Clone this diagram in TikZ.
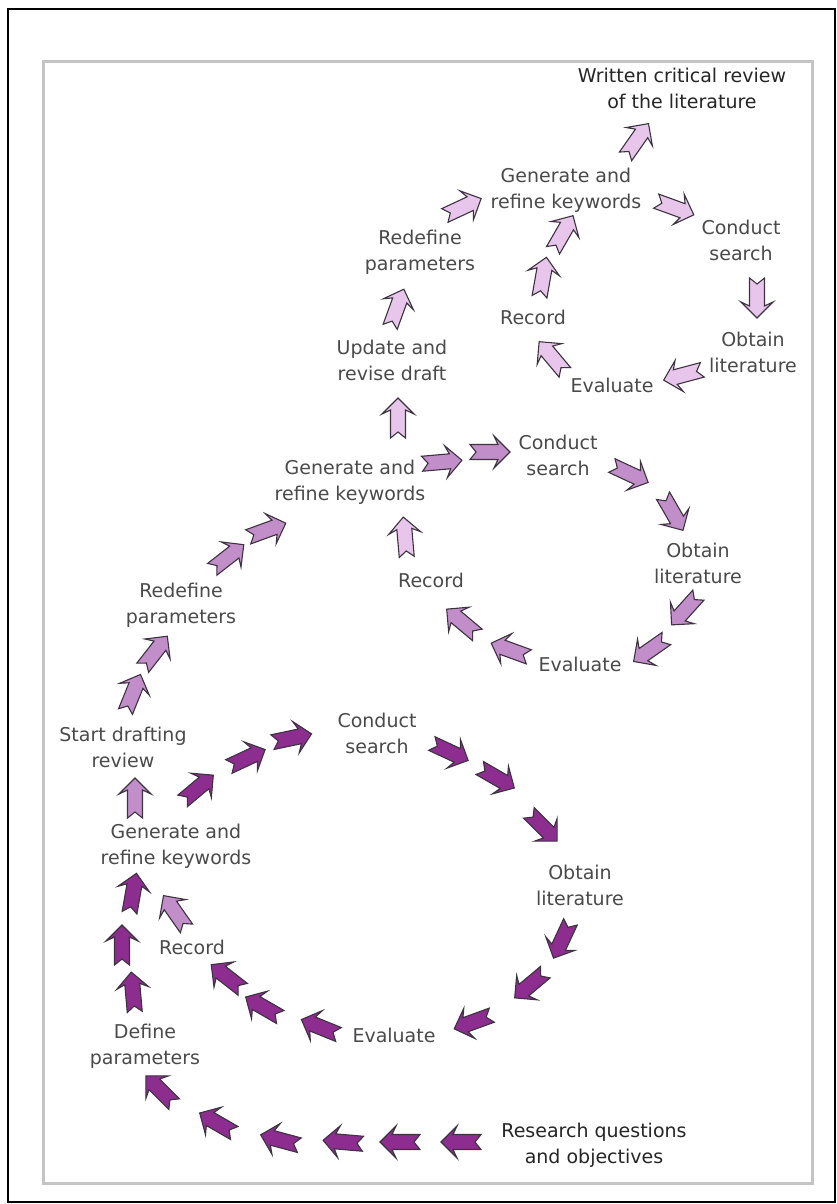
\documentclass[tikz,border=0pt]{standalone}
\usepackage{fontspec}
\setmainfont{DejaVu Sans}
\definecolor{cdark}{HTML}{8C2D8F}
\definecolor{cmed}{HTML}{C28EC9}
\definecolor{clight}{HTML}{E8C5EB}
\definecolor{edge}{HTML}{3D3340}
\definecolor{txt}{HTML}{4A4A4A}
\definecolor{txtdark}{HTML}{262626}
\definecolor{framegray}{HTML}{C4C4C4}
% notched block arrow: centre (#1,#2), direction #3 (degrees), fill #4
\newcommand\blkarrow[4]{%
  \filldraw[arrline, fill=#4, shift={(#1,#2)}, rotate=#3]
    (-20,7.5) -- (8,7.5) -- (4,16) -- (20,0) -- (4,-16) -- (8,-7.5)
    -- (-20,-7.5) -- (-14,0) -- cycle;}
\begin{document}
\begin{tikzpicture}[x=1pt,y=-1pt,
  arrline/.style={draw=edge, line width=1.1pt, line join=miter},
  lbl/.style={font=\fontsize{19}{26}\selectfont, text=txt, align=center, inner sep=0pt},
  keylbl/.style={lbl, text=txtdark}]
\useasboundingbox (0,0) rectangle (837,1204);
\fill[white] (0,0) rectangle (837,1204);
\draw[black, line width=2pt] (8,9) rectangle (835,1202);
\draw[framegray, line width=3pt] (43,62) rectangle (812,1183);

% labels
\node[keylbl] (review) at (682,88) {Written critical review\\of the literature};
\node[lbl] (gen3) at (566,190) {Generate and\\refine keywords};
\node[lbl] (con3) at (741,240) {Conduct\\search};
\node[lbl] (obt3) at (753,352) {Obtain\\literature};
\node[lbl] (eva3) at (612,385) {Evaluate};
\node[lbl] (rec3) at (533,317) {Record};
\node[lbl] (redef3) at (420,252) {Redefine\\parameters};
\node[lbl] (update) at (392,360) {Update and\\revise draft};

\node[lbl] (gen2) at (350,482) {Generate and\\refine keywords};
\node[lbl] (con2) at (558,455) {Conduct\\search};
\node[lbl] (obt2) at (698,563) {Obtain\\literature};
\node[lbl] (eva2) at (580,664) {Evaluate};
\node[lbl] (rec2) at (431,580) {Record};
\node[lbl] (redef2) at (181,605) {Redefine\\parameters};
\node[lbl] (start) at (123,747) {Start drafting\\review};

\node[lbl] (con1) at (377,733) {Conduct\\search};
\node[lbl] (obt1) at (580,885) {Obtain\\literature};
\node[lbl] (eva1) at (394,1035) {Evaluate};
\node[lbl] (rec1) at (192,947) {Record};
\node[lbl] (gen1) at (176,846) {Generate and\\refine keywords};
\node[lbl] (def1) at (145,1046) {Define\\parameters};
\node[keylbl] (rq) at (594,1145) {Research questions\\and objectives};

% first cycle
\foreach \x/\y/\a in {461/1142/180, 400/1142/180, 343/1142/175, 280/1140/165,
    217/1123/150, 160/1090/135,
    133/992/95, 122/945/90, 133/893/80,
    198/788/40, 247/758/25, 292/738/12,
    450/752/-25, 497/778/-30, 543/827/-45,
    562/940/-115, 530/985/-140, 473/1022/-160,
    320/1027/158, 263/1007/150, 227/977/142}
  {\blkarrow{\x}{\y}{\a}{cdark}}

% second cycle
\foreach \x/\y/\a in {175/912/125, 135/798/90, 133/693/68, 155/652/52,
    228/557/38, 267/530/20, 442/462/5, 490/452/0,
    630/474/-25, 673/513/-60, 685/610/-132, 650/650/-145,
    510/650/160, 462/622/140}
  {\blkarrow{\x}{\y}{\a}{cmed}}

% third cycle
\foreach \x/\y/\a in {405/537/95, 398/418/90, 397/308/70, 463/207/25,
    675/208/-20, 757/298/-90, 683/375/195, 552/357/130,
    543/277/80, 563/233/60, 637/140/55}
  {\blkarrow{\x}{\y}{\a}{clight}}
\end{tikzpicture}
\end{document}
